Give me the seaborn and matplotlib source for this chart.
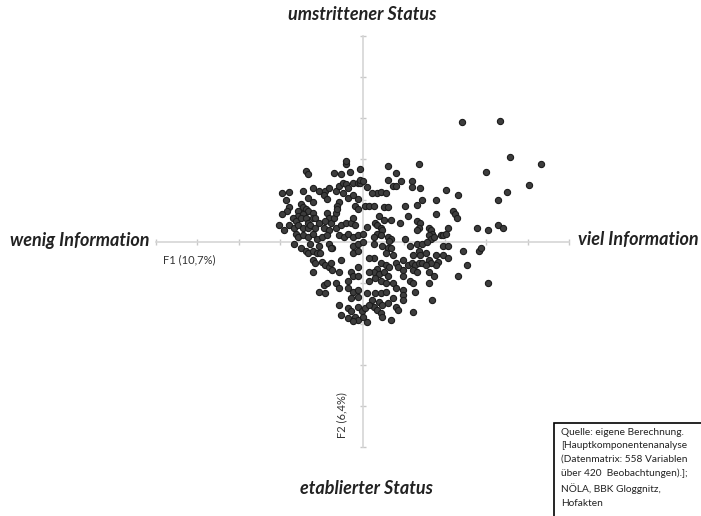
import numpy as np
import pandas as pd
import matplotlib
matplotlib.use('Agg')
import matplotlib.pyplot as plt
from matplotlib.patches import Rectangle
import seaborn as sns

# Faktorwerte der Beobachtungen (F1 = Information, F2 = Status)
f1 = [
    # dichter Block links
    -1.77, -1.45, -1.19, -1.06, -0.90, -0.82, -1.31, -1.19, -0.94, -0.87,
    -0.65, -0.58, -0.48, -0.41, -0.34, -0.24, -0.12, -0.05, -0.48, -0.36,
    -0.24, -0.12, -0.58, -0.61, -0.17, -0.10, -1.79, -1.82, -1.50, -1.45,
    -1.55, -1.38, -1.31, -1.21, -1.57, -1.43, -1.69, -1.62, -1.50, -1.38,
    -1.31, -1.21, -1.14, -1.79, -1.67, -1.55, -1.43, -1.33, -1.26, -1.14,
    -1.06, -0.85, -0.82, -0.90, -0.77, -0.70, -0.65, -0.61, -0.94, -0.82,
    -0.65, -0.53, -0.41, -0.29, -0.22, -0.17, -1.62, -1.55, -1.43, -1.31,
    -1.19, -1.09, -0.97, -0.85, -0.58, -0.46, -0.36, -0.24, -0.12, 0.00,
    -2.03, -1.96, -1.94, -1.89, -1.86, -1.67,
    # oberer Rand
    -1.38, -1.31, -0.70, -0.51, -0.41, -0.39, -0.31, -0.05, -0.05, 0.02,
    0.12, 0.07, 0.15, 0.12,
    # rechts oben
    0.61, 1.36, 0.82, 0.61, 0.94, 0.73, 0.82, 1.21, 1.21, 1.40,
    2.01, 2.32, 0.36, 0.44, 0.56, 0.22, 1.43, 1.79, 0.27, 0.51,
    0.61, 1.02, 1.31, 1.79, 2.20, 2.25, 2.30, 0.39, 1.09, 0.31,
    0.36, 0.44, 0.48, 0.51, 0.68, 0.90, 1.33, 1.40, 1.36, 1.33,
    1.60, 1.65, 1.69, 1.60, 2.08, 1.89, 1.96, 2.01, 2.78, 0.36,
    0.44, 0.27, 0.61, 0.68, 1.04, 1.65, 1.72,
    # rechts unten
    0.27, 0.63, 0.48, 0.61, 0.68, 1.16, 1.33, 1.45, 1.57, 1.94,
    2.08, 2.44, 2.81, 2.88, 0.27, 0.56, 0.75, 0.97, 1.36, 1.40,
    1.53, 1.77, 1.84, 1.79, 1.96, 2.08, 1.23, 1.60, 1.65, 2.54,
    0.44, 0.56, 0.63, 0.36, 0.27, 0.39, 0.51, 0.61, 0.31, 0.44,
    0.56, 0.80, 0.85, 0.97, 1.09, 1.21, 1.28, 1.36, 1.45, 1.53,
    1.23, 1.33, 0.97, 1.60, 1.72, 2.32, 1.16, 1.23, 1.60, 3.03,
    0.75, 0.80, 0.31, 0.44, 0.56, 0.99, 0.99, 0.97, 1.28, 0.73,
    1.69, 0.24, 0.27, 0.39, 0.48, 0.61, 0.80, 0.85, 0.36, 0.44,
    0.48, 1.23, 0.68,
    # links unten
    -1.26, -1.06, -0.82, -0.73, -0.22, -0.10, 0.02, -1.50, -1.38, -1.31,
    -1.19, -1.09, -1.02, -0.53, -0.77, -0.24, -0.10, 0.15, -1.19, -1.14,
    -0.97, -0.90, -0.82, -0.77, -1.19, -0.73, -0.58, -0.10, -0.29, -0.24,
    -0.10, 0.15, -0.36, 0.15, -0.94, -0.85, -0.65, -0.58, -1.06, -0.90,
    -0.36, -0.24, -0.12, -0.10, 0.12, -0.29, -0.58, -0.36, -0.27, -0.12,
    -0.02, 0.07, 0.15, -0.53, -0.34, -0.17, -0.10, 0.02, 0.12, -0.24,
    # Ausreisser rechts
    2.42, 3.32, 3.56, 4.31, 2.98, 4.02, 3.51, 3.27, 3.27, 3.41,
    3.05,
]
f2 = [
    1.21, 1.24, 1.29, 1.24, 1.24, 1.29, 1.07, 0.95, 1.12, 1.04,
    1.24, 1.36, 1.43, 1.41, 1.29, 1.43, 1.43, 1.43, 1.17, 1.07,
    1.12, 1.04, 0.95, 0.87, 0.87, 0.80, 0.83, 0.75, 0.92, 0.83,
    0.75, 0.80, 0.75, 0.70, 0.63, 0.68, 0.56, 0.51, 0.56, 0.56,
    0.46, 0.56, 0.58, 0.39, 0.34, 0.39, 0.34, 0.32, 0.39, 0.34,
    0.44, 0.70, 0.58, 0.51, 0.46, 0.58, 0.70, 0.80, 0.32, 0.27,
    0.32, 0.39, 0.44, 0.46, 0.56, 0.39, 0.19, 0.10, 0.15, 0.10,
    0.19, 0.07, 0.10, 0.15, 0.15, 0.10, 0.19, 0.10, 0.15, 0.19,
    0.41, 1.19, 0.66, 0.27, 1.00, -0.05,
    1.72, 1.65, 1.67, 1.65, 1.89, 1.97, 1.70, 1.77, 1.50, 1.46,
    1.33, 0.87, 0.87, 0.36,
    1.84, 1.89, 1.67, 1.50, 1.48, 1.36, 1.36, 1.46, 1.33, 1.29,
    1.26, 1.12, 1.19, 1.21, 1.17, 1.17, 1.02, 1.00, 0.87, 0.83,
    0.83, 0.87, 0.90, 0.68, 0.73, 0.68, 0.56, 0.63, 0.61, 0.46,
    0.39, 0.34, 0.27, 0.53, 0.53, 0.46, 0.51, 0.46, 0.34, 0.27,
    0.34, 0.27, 0.19, 0.15, 0.34, 0.15, 0.15, 0.19, 0.34, 0.19,
    0.15, 0.10, 0.10, 0.07, 0.05, 0.07, 0.10,
    -0.05, 0.02, -0.10, -0.15, -0.17, -0.10, -0.05, -0.05, -0.02, -0.10,
    -0.10, -0.22, -0.22, -0.17, -0.41, -0.29, -0.34, -0.46, -0.22, -0.34,
    -0.29, -0.34, -0.51, -0.56, -0.34, -0.41, -0.34, -0.46, -0.53, -0.58,
    -0.53, -0.58, -0.63, -0.66, -0.75, -0.78, -0.75, -0.83, -0.90, -0.95,
    -1.00, -0.53, -0.63, -0.70, -0.58, -0.53, -0.58, -0.53, -0.53, -0.58,
    -0.70, -0.75, -0.83, -0.75, -0.83, -0.83, -0.95, -1.02, -1.02, -1.00,
    -1.02, -1.14, -1.26, -1.26, -1.24, -1.19, -1.31, -1.43, -1.24, -1.38,
    -1.43, -1.43, -1.60, -1.48, -1.55, -1.50, -1.60, -1.67, -1.67, -1.75,
    -1.84, -1.72, -1.92,
    -0.05, -0.10, -0.05, -0.15, -0.10, -0.05, -0.02, -0.15, -0.22, -0.27,
    -0.22, -0.29, -0.27, -0.46, -0.17, -0.29, -0.22, -0.41, -0.46, -0.53,
    -0.51, -0.58, -0.63, -0.53, -0.75, -0.70, -0.75, -0.61, -0.75, -0.83,
    -0.83, -0.75, -0.95, -0.95, -1.07, -1.02, -1.02, -1.12, -1.24, -1.26,
    -1.14, -1.24, -1.19, -1.36, -1.26, -1.38, -1.55, -1.63, -1.70, -1.60,
    -1.70, -1.63, -1.55, -1.80, -1.87, -1.84, -1.92, -1.84, -1.97, -1.94,
    2.91, 2.94, 2.06, 1.89, 1.70, 1.38, 1.21, 1.00, 0.39, 0.34,
    0.27,
]

pole_labels = ['umstrittener Status', 'etablierter Status', 'wenig Information', 'viel Information']
axis_labels = ['F1 (10,7%)', 'F2 (6,4%)']
source_lines = [
    'Quelle: eigene Berechnung.',
    '[Hauptkomponentenanalyse',
    '(Datenmatrix: 558 Variablen',
    'über 420  Beobachtungen).];',
    'NÖLA, BBK Gloggnitz,',
    'Hofakten',
]

df = pd.DataFrame({'F1': f1, 'F2': f2})

sns.set_style('white')
plt.rcParams['font.family'] = ['Lato', 'DejaVu Sans']

fig = plt.figure(figsize=(7.01, 5.16), dpi=100)
ax = fig.add_axes([156 / 701, 69 / 516, 413 / 701, 411 / 516])

sns.scatterplot(data=df, x='F1', y='F2', ax=ax, s=20, color='#3d3d3d',
                edgecolor='#1c1c1c', linewidth=0.8, zorder=3)

ax.set_xlim(-5, 5)
ax.set_ylim(-5, 5)

# Achsen durch den Ursprung
axis_grey = '#d6d6d6'
for side in ['top', 'right']:
    ax.spines[side].set_visible(False)
for side in ['left', 'bottom']:
    ax.spines[side].set_position('zero')
    ax.spines[side].set_color(axis_grey)
    ax.spines[side].set_linewidth(1.2)
ax.set_xticks(np.arange(-5, 6, 1))
ax.set_yticks(np.arange(-5, 6, 1))
ax.tick_params(bottom=True, left=True, direction='inout', length=5, width=1,
               color='#c8c8c8', labelbottom=False, labelleft=False)
ax.set_xlabel('')
ax.set_ylabel('')

# Polbeschriftungen
bold = dict(fontsize=13, fontweight='bold', fontstyle='italic', color='#222222')
fig.text(362 / 701, 1 - 15 / 516, pole_labels[0], ha='center', va='center', **bold)
fig.text(366 / 701, 1 - 489 / 516, pole_labels[1], ha='center', va='center', **bold)
fig.text(10 / 701, 1 - 241 / 516, pole_labels[2], ha='left', va='center', **bold)
fig.text(578 / 701, 1 - 240 / 516, pole_labels[3], ha='left', va='center', **bold)

small = dict(fontsize=8, color='#333333')
fig.text(163 / 701, 1 - 260 / 516, axis_labels[0], ha='left', va='center', **small)
fig.text(342 / 701, 1 - 415 / 516, axis_labels[1], ha='center', va='center',
         rotation=90, **small)

# Quellenkasten
fig.patches.append(Rectangle((554 / 701, -0.05), 0.3, (516 - 423) / 516 + 0.05,
                             transform=fig.transFigure, fill=False,
                             edgecolor='black', linewidth=1.2))
fig.text(561 / 701, 1 - 428 / 516, '\n'.join(source_lines), ha='left', va='top',
         fontsize=7.3, color='#222222', linespacing=1.62)

fig.savefig('out.png', dpi=100)
